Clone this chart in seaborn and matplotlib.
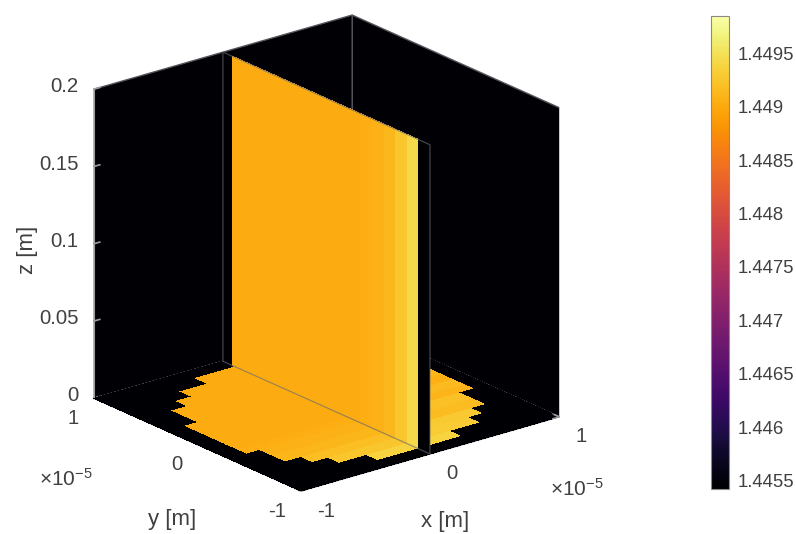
"""
Refractive index on two slices of a fibre: floor z = 0 and vertical plane x = 0.
"""

import numpy as np
import matplotlib
matplotlib.use("Agg")
import matplotlib.pyplot as plt
from mpl_toolkits.mplot3d import proj3d
import seaborn as sns

# ── Data ──────────────────────────────────────────────────────────────────────

x_ticks = [-1e-5, 0, 1e-5]
y_ticks = [-1e-5, 0, 1e-5]
z_ticks = [0, 0.05, 0.1, 0.15, 0.2]
xy_tick_labels = ["-1", "0", "1"]
z_tick_labels = ["0", "0.05", "0.1", "0.15", "0.2"]

cbar_ticks = [1.4455, 1.446, 1.4465, 1.447, 1.4475, 1.448, 1.4485, 1.449, 1.4495]
cbar_labels = ["1.4455", "1.446", "1.4465", "1.447", "1.4475", "1.448", "1.4485", "1.449", "1.4495"]
n_min = 1.44542
n_max = 1.44985

# cell edges of the vertical plane, in units of 1e-5 m
plane_edges = [-1.0, -0.89, -0.78, -0.67, -0.56, -0.44, -0.33, -0.22, -0.11, 0.0,
               0.11, 0.22, 0.33, 0.44, 0.56, 0.67, 0.78, 0.91, 1.0]
# cell edges of the floor mesh
floor_x_edges = [-1.0, -0.87, -0.77, -0.65, -0.53, -0.42, -0.32, -0.21, -0.1, 0.0,
                 0.11, 0.22, 0.33, 0.44, 0.56, 0.67, 0.78, 0.89, 1.0]
floor_y_edges = [-1.0, -0.89, -0.78, -0.67, -0.56, -0.44, -0.31, -0.22, -0.11, 0.0,
                 0.11, 0.19, 0.29, 0.43, 0.54, 0.65, 0.76, 0.88, 1.0]

# x = 0 plane, one value per y cell from y = -1 to y = 1
plane_values = [1.4454, 1.44942, 1.44925, 1.44914, 1.44908, 1.44905, 1.44903, 1.44902, 1.44902,
                1.44902, 1.44902, 1.44902, 1.44902, 1.44902, 1.44902, 1.44902, 1.44902, 1.4454]

# floor disc: half width in cells, value and extra value right of x = 0, per row from y = -0.89 up
floor_half_cells = [3, 5, 6, 7, 7, 8, 8, 8, 8, 8, 8, 7, 7, 6, 5, 3]
floor_row_values = [1.44938, 1.44926, 1.44918, 1.44912, 1.44908, 1.44905, 1.44903, 1.44902,
                    1.44902, 1.44902, 1.44902, 1.44902, 1.44902, 1.44902, 1.44902, 1.44902]
floor_row_right = [0.0, 0.00004, 0.0001, 0.00004, 0.00012, 0.00005, 0.00012, 0.00005,
                   0.0001, 0.00004, 0.00008, 0.00003, 0.00004, 0.00002, 0.0, 0.0]
floor_background = 1.4454

TEXT = "#404040"
LINE = "#55565c"
TICK = "#9a9a9a"


def build_floor():
    vals = np.full((18, 18), floor_background)
    for r, half in enumerate(floor_half_cells):
        for c in range(9 - half, 9 + half):
            vals[r + 1, c] = floor_row_values[r] + (floor_row_right[r] if c >= 9 else 0.0)
    return vals


def tick_text(ax, point, label, dx, dy, ha):
    """Label a tick at a fixed pixel offset from its projected position."""
    px, py, _ = proj3d.proj_transform(*point, ax.get_proj())
    ax.annotate(label, xy=(px, py), xytext=(dx, dy), textcoords="offset pixels",
                ha=ha, va="center", color=TEXT, fontsize=14.7, annotation_clip=False)


def main():
    sns.set_theme(style="white")
    plt.rcParams["font.family"] = ["Liberation Sans", "DejaVu Sans"]
    plt.rcParams["mathtext.default"] = "regular"

    cmap = sns.color_palette("inferno", as_cmap=True)
    norm = plt.Normalize(n_min, n_max)

    fig = plt.figure(figsize=(7.96, 5.34), dpi=100)
    ax = fig.add_axes([88.2 / 796, 42.7 / 534, 464 / 796, 464 / 534],
                      projection="3d", computed_zorder=False)
    ax.set_proj_type("ortho")
    ax.view_init(elev=21, azim=-128.7)
    ax.set_box_aspect((1, 1, 1), zoom=1.2)
    ax.patch.set_alpha(0)
    ax.grid(False)

    # floor
    X, Y = np.meshgrid(np.array(floor_x_edges) * 1e-5, np.array(floor_y_edges) * 1e-5)
    ax.plot_surface(X, Y, np.zeros_like(X), facecolors=cmap(norm(build_floor())),
                    rstride=1, cstride=1, shade=False, antialiased=False,
                    linewidth=0, zorder=1)

    # vertical plane
    Yp, Zp = np.meshgrid(np.array(plane_edges) * 1e-5, [0, 0.2])
    plane_colors = cmap(norm(np.array([plane_values])))
    ax.plot_surface(np.zeros_like(Yp), Yp, Zp, facecolors=plane_colors,
                    rstride=1, cstride=1, shade=False, antialiased=False,
                    linewidth=0, zorder=2)

    # outline of the plane
    ax.plot([0, 0, 0, 0, 0], [1e-5, -1e-5, -1e-5, 1e-5, 1e-5], [0, 0, 0.2, 0.2, 0],
            color="#6a6a70", lw=0.8, alpha=0.7, zorder=3)

    ax.set_xlim(-1e-5, 1e-5)
    ax.set_ylim(-1e-5, 1e-5)
    ax.set_zlim(0, 0.2)
    ax.set_xticks(x_ticks)
    ax.set_yticks(y_ticks)
    ax.set_zticks(z_ticks)
    ax.set_xticklabels([])
    ax.set_yticklabels([])
    ax.set_zticklabels([])
    ax.zaxis.set_ticks_position("upper")

    for axis in (ax.xaxis, ax.yaxis, ax.zaxis):
        axis.set_pane_color((0.0, 0.0, 0.02, 1.0))
        axis.pane.set_edgecolor(LINE)
        axis.line.set_color(TICK)
        axis.line.set_linewidth(0.8)
        axis._axinfo["tick"].update(inward_factor=0.0, outward_factor=0.3)
        axis._axinfo["tick"]["color"] = TICK
    ax.tick_params(axis="both", colors=TICK)
    ax.tick_params(axis="z", colors=TICK)

    for val, label in zip(x_ticks, xy_tick_labels):
        tick_text(ax, (val, -1e-5, 0), label, 16, -20, "left")
    for val, label in zip(y_ticks, xy_tick_labels):
        tick_text(ax, (-1e-5, val, 0), label, -15, -20, "right")
    for val, label in zip(z_ticks, z_tick_labels):
        tick_text(ax, (-1e-5, 1e-5, val), label, -15, 2.5, "right")

    # axis labels and exponents, placed in figure pixels
    def px_text(x, y, s, size=16, **kw):
        fig.text(x / 796, 1 - y / 534, s, color=TEXT, fontsize=size, ha="center", va="center", **kw)

    px_text(172, 519, "y [m]")
    px_text(445, 522, "x [m]")
    px_text(27, 250, "z [m]", rotation=90)
    px_text(66, 479, "\u00d7$10^{-5}$", size=15)
    px_text(577, 489, "\u00d7$10^{-5}$", size=15)

    # colorbar
    cax = fig.add_axes([711 / 796, (534 - 489) / 534, 18 / 796, 473 / 534])
    sm = plt.cm.ScalarMappable(norm=norm, cmap=cmap)
    cbar = fig.colorbar(sm, cax=cax)
    cbar.set_ticks(cbar_ticks)
    cbar.set_ticklabels(cbar_labels)
    cbar.ax.tick_params(direction="in", length=4, width=0.8, color="#404040",
                        labelcolor=TEXT, labelsize=13.3, pad=6, right=True)
    cbar.outline.set_edgecolor("#8a8a8a")
    cbar.outline.set_linewidth(0.8)

    fig.savefig("out.png", dpi=100)
    plt.close(fig)


if __name__ == "__main__":
    main()
